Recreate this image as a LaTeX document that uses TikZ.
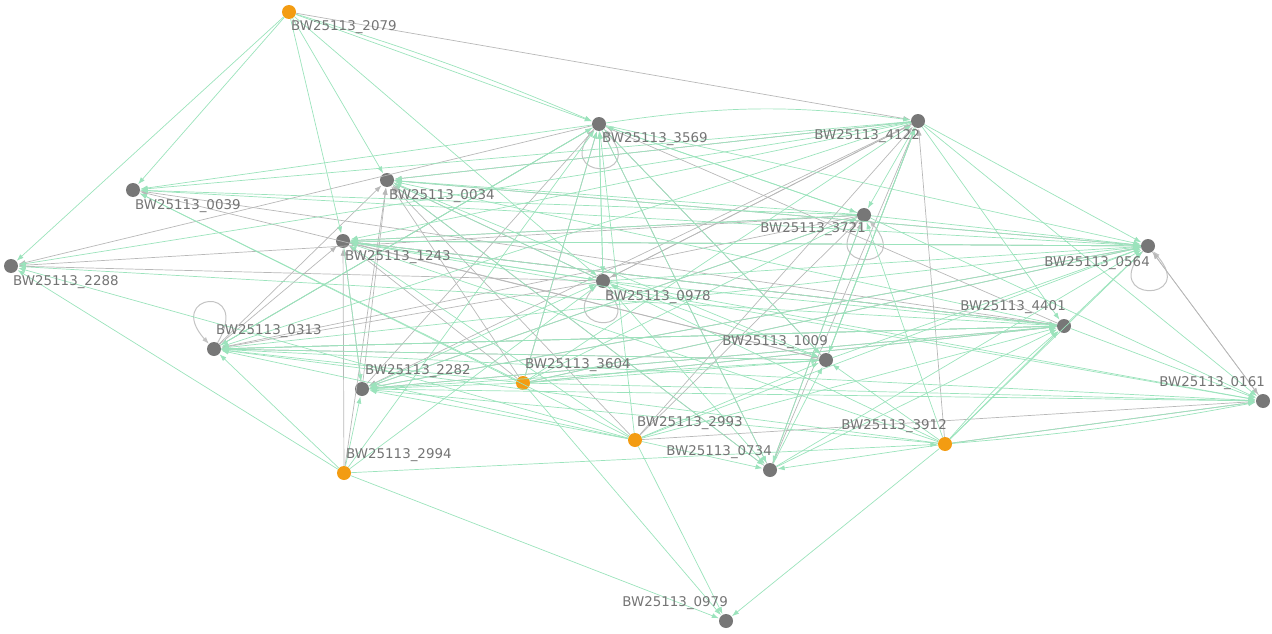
\documentclass[tikz,border=0pt]{standalone}
\usepackage{fontspec}
\setmainfont{DejaVu Sans}
\usetikzlibrary{arrows.meta}
\definecolor{gline}{HTML}{9BE3BC}
\definecolor{kline}{HTML}{B8B8B8}
\definecolor{gnode}{HTML}{777777}
\definecolor{onode}{HTML}{F39C12}
\definecolor{ltxt}{HTML}{747474}
\tikzset{
  gn/.style={circle,fill=gnode,inner sep=0pt,minimum size=14pt},
  on/.style={circle,fill=onode,inner sep=0pt,minimum size=14pt},
  lbl/.style={text=ltxt,inner sep=0pt,font=\fontsize{13.4}{15}\selectfont},
  ge/.style={draw=gline,line width=0.7pt,-{Latex[length=7pt,width=5pt]},shorten >=0.5pt},
  ke/.style={draw=kline,line width=0.7pt,-{Latex[length=7pt,width=5pt]},shorten >=0.5pt},
  kl/.style={draw=kline!85,line width=1pt,-{Latex[length=7pt,width=5pt]}}
}
\begin{document}
\begin{tikzpicture}[x=1pt,y=-1pt]
\useasboundingbox (0,0) rectangle (1272,634);
% nodes
\foreach \n/\x/\y in {3569/599/124, 4122/918/121, 0039/133/190, 0034/387/180, 3721/864/215,
  1243/343/241, 0564/1148/246, 2288/11/266, 0978/603/281, 4401/1064/326, 0313/214/349,
  1009/826/360, 2282/362/389, 0161/1263/401, 0734/770/470, 0979/726/621}
  \node[gn] (n\n) at (\x,\y) {};
\foreach \n/\x/\y in {2079/289/12, 3604/523/383, 2993/635/440, 3912/945/444, 2994/344/473}
  \node[on] (n\n) at (\x,\y) {};
% self loops
\draw[kl] (n3569.-135) .. controls +(-45,52) and +(45,52) .. (n3569.-45);
\draw[kl] (n3721.-135) .. controls +(-45,52) and +(45,52) .. (n3721.-45);
\draw[kl] (n0564.-135) .. controls +(-45,52) and +(45,52) .. (n0564.-45);
\draw[kl] (n0978.-150) .. controls +(-45,45) and +(40,50) .. (n0978.-70);
\draw[kl] (n0313.60) .. controls +(35,-60) and +(-45,-50) .. (n0313.135);
% gray edges
\foreach \a/\b in {2079/4122, 2994/1243, 2994/0034, 3604/1243, 3604/0034, 3604/4401, 3604/0564,
  3604/3569, 2993/4122, 2993/3721, 2993/0034, 2993/0161, 3912/4122, 3912/0161,
  0734/4122, 0734/3721, 0734/3569, 0734/0034, 1009/3569, 1009/0313, 1009/4122,
  0161/0564, 0564/0161, 0564/1243, 0564/0034, 0564/2282, 4401/3569, 4401/0313,
  4401/2282, 4401/1243, 0978/0034, 0978/2288, 0978/0313, 3721/0313, 3721/1243,
  3721/2282, 3721/2288, 4122/0034, 4122/2282, 4122/0978, 1243/4401, 1243/1009,
  0313/0034, 0313/1243, 0313/3569, 2282/0034, 2282/1243, 2282/3569, 3569/2288,
  0039/4401, 0978/4122, 1009/0039}
  \draw[ke] (n\a) -- (n\b);
% green edges
\foreach \a/\b in {2079/2288, 2079/0039, 2079/1243, 2079/0034, 2079/3569, 2079/0978,
  2994/2288, 2994/0313, 2994/0979, 2994/2282, 2994/3912, 2994/0978, 2994/3569,
  3604/0979, 3604/2282, 3604/1009, 3604/4401, 3604/0564, 3604/0161, 3604/3569,
  3604/4122, 3604/0313, 3604/0039, 3604/3721,
  2993/0979, 2993/0734, 2993/1009, 2993/2282, 2993/0313, 2993/3569, 2993/0564,
  2993/4401, 2993/1243, 2993/0039, 2993/2288,
  3912/0979, 3912/0734, 3912/0161, 3912/4401, 3912/0564, 3912/2282, 3912/1243,
  3912/0978, 3912/0313, 3912/3721, 3912/1009,
  4122/0161, 4122/3721, 4122/0039, 4122/0034, 4122/1243, 4122/0313, 4122/0564,
  4122/4401, 4122/2288, 4122/1009,
  3721/0039, 3721/0034, 3721/1243, 3721/3569, 3721/0564, 3721/0161, 3721/2282, 3721/0734,
  3569/3721, 3569/0564, 3569/1009, 3569/0734, 3569/0978, 3569/0313, 3569/0039,
  0978/0034, 0978/1243, 0978/0564, 0978/4401, 0978/1009, 0978/0161, 0978/0734,
  0978/3569,
  0564/0039, 0564/0313, 0564/2282, 0564/1243,
  4401/0034, 4401/0313, 4401/1243, 4401/2288, 4401/0564, 4401/0161,
  1009/0313, 1009/2282, 1009/0564, 1009/4122,
  0734/1009, 0734/4401, 0734/0564,
  1243/0564, 1243/0161, 1243/0978, 1243/2282,
  0034/1009, 0034/0564, 0034/0734,
  0313/4401, 0313/0161, 0313/3569,
  2282/0161, 2282/4401, 2282/0978}
  \draw[ge] (n\a) -- (n\b);
\draw[ge] (n2079) to[bend left=3] (n3569);
\draw[ge] (n3569) to[bend left=8] (n4122);
\draw[ge] (n3912) to[bend right=3] (n0161);
\draw[ge] (n3912) to[bend left=4] (n4401);
% labels below right
\foreach \n/\x/\y in {2079/291/27, 3569/602/139, 0039/135/206, 0034/389/196, 1243/345/257,
  2288/13/282, 0978/605/297}
  \node[lbl,anchor=west] (l\n) at (\x,\y) {BW25113\_\n};
% labels below left
\foreach \n/\x/\y in {4122/920/136, 3721/866/229, 0564/1150/263}
  \node[lbl,anchor=east] (l\n) at (\x,\y) {BW25113\_\n};
% labels above right
\foreach \n/\x/\y in {0313/216/331, 2282/365/371, 3604/525/365, 2994/346/455, 2993/637/423}
  \node[lbl,anchor=west] (l\n) at (\x,\y) {BW25113\_\n};
% labels above left
\foreach \n/\x/\y in {4401/1066/307, 1009/828/342, 0161/1265/383, 0734/772/452, 3912/947/426, 0979/728/603}
  \node[lbl,anchor=east] (l\n) at (\x,\y) {BW25113\_\n};
\end{tikzpicture}
\end{document}
